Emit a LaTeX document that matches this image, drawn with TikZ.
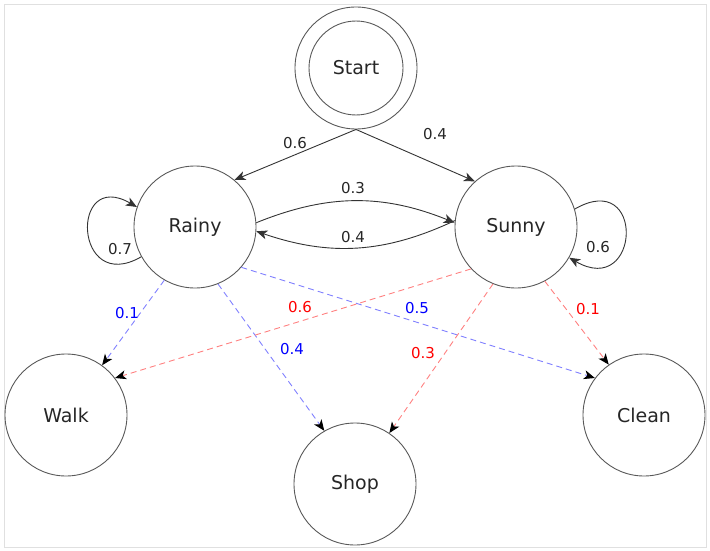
\documentclass[tikz,border=0pt]{standalone}
\usepackage{fontspec}
\setmainfont{DejaVu Sans}
\usetikzlibrary{arrows.meta}

\begin{document}
\begin{tikzpicture}[x=1pt, y=-1pt,
    state/.style={circle, draw=black!65, line width=0.9pt, minimum size=122pt,
      inner sep=0pt, text=black!85, font=\fontsize{19}{23}\selectfont},
    ring/.style={circle, draw=black!65, line width=0.9pt, minimum size=122pt, inner sep=0pt},
    trans/.style={draw=black!80, line width=0.9pt,
      -{Stealth[length=11pt,width=9pt,inset=3pt]}},
    emitR/.style={draw=blue!50, line width=0.9pt, dash pattern=on 6pt off 4pt,
      -{Stealth[color=black,length=11pt,width=9pt,inset=3pt]}},
    emitS/.style={draw=red!50, line width=0.9pt, dash pattern=on 6pt off 4pt,
      -{Stealth[color=black,length=11pt,width=9pt,inset=3pt]}},
    prob/.style={font=\fontsize{15}{18}\selectfont, text=black!85, inner sep=1pt}]

  % frame
  \useasboundingbox (0,0) rectangle (710,551);
  \draw[black!12, line width=1pt] (4,5) rectangle (706,547);

  % hidden states
  \node[state, minimum size=94pt] (start) at (356,68) {Start};
  \node[ring] (startring) at (start) {};
  \node[state] (rainy) at (195,227) {Rainy};
  \node[state] (sunny) at (516,227) {Sunny};

  % observations
  \node[state] (walk)  at (66,415)  {Walk};
  \node[state] (shop)  at (355,484) {Shop};
  \node[state] (clean) at (644,415) {Clean};

  % transitions
  \draw[trans] (startring.south) -- (rainy.50);
  \draw[trans] (startring.south) -- (sunny.132);
  \draw[trans] (rainy.4) to[bend left=22] (sunny.176);
  \draw[trans] (sunny.174) to[bend left=22] (rainy.356);
  \draw[trans] (rainy.209) to[out=210, in=150, looseness=4] (rainy.161);
  \draw[trans] (sunny.17) to[out=30, in=-30, looseness=4.3] (sunny.-30);

  \node[prob] (pStR) at (295,143) {0.6};
  \node[prob] (pStS) at (435,134) {0.4};
  \node[prob] (pRS)  at (353,188) {0.3};
  \node[prob] (pSR)  at (353,237) {0.4};
  \node[prob] (pRR)  at (120,249) {0.7};
  \node[prob] (pSS)  at (598,247) {0.6};

  % emissions
  \draw[emitR] (rainy.240) -- (walk.54);
  \draw[emitR] (rainy.292) -- (shop.120);
  \draw[emitR] (rainy.-41) -- (clean.143);
  \draw[emitS] (sunny.223) -- (walk.37);
  \draw[emitS] (sunny.248) -- (shop.56);
  \draw[emitS] (sunny.298) -- (clean.125);

  \node[prob, text=blue] (pRW) at (127,313) {0.1};
  \node[prob, text=blue] (pRH) at (292,349) {0.4};
  \node[prob, text=blue] (pRC) at (417,308) {0.5};
  \node[prob, text=red]  (pSW) at (300,307) {0.6};
  \node[prob, text=red]  (pSH) at (423,353) {0.3};
  \node[prob, text=red]  (pSC) at (588,309) {0.1};

\end{tikzpicture}
\end{document}
